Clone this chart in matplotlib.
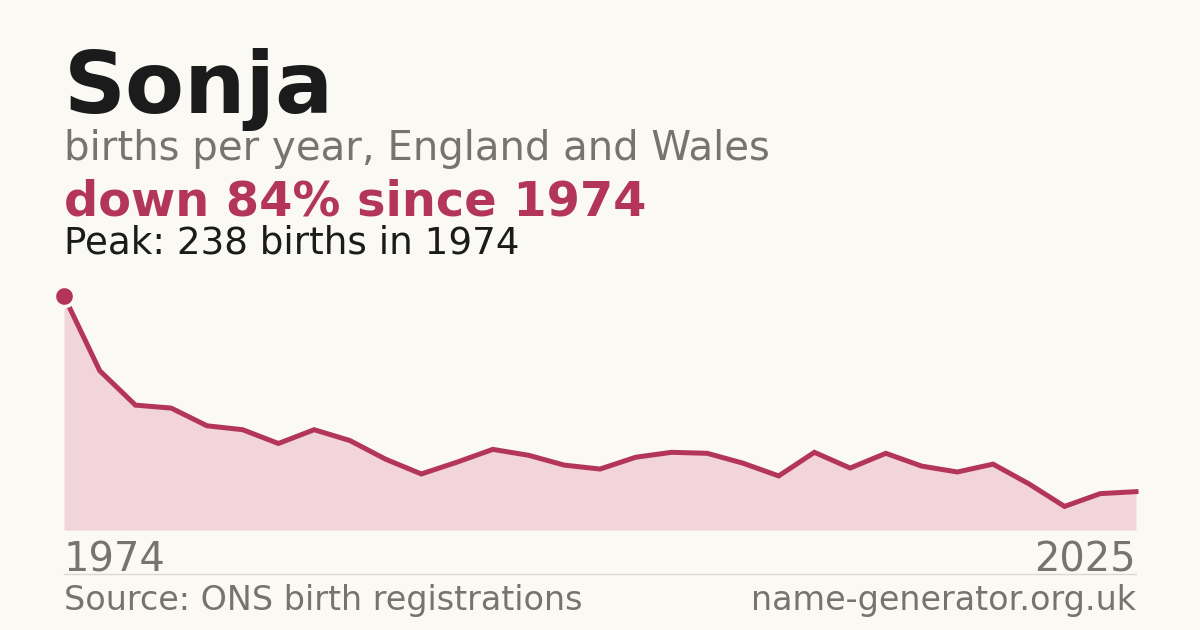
import matplotlib
matplotlib.use("Agg")
import matplotlib.pyplot as plt
import numpy as np

plt.rcParams["font.family"] = ["DejaVu Sans"]

# name data (births per year), evenly spaced from first to last year
name = "Sonja"
first_year = 1974
last_year = 2025
births = [238, 162, 127, 124, 106, 102, 88, 102, 91, 72,
          57, 69, 82, 76, 66, 62, 74, 79, 78, 68,
          55, 79, 63, 78, 65, 59, 67, 47, 24, 37, 39]

subtitle = "births per year, England and Wales"
change_text = "down 84% since 1974"
peak_text = "Peak: 238 births in 1974"
source_text = "Source: ONS birth registrations"
site_text = "name-generator.org.uk"

bg = "#faf9f4"
red = "#b3365a"
fill_col = "#f2d5da"
grey = "#78736c"
dark = "#1b1b1b"

W, H = 1200, 630
fig = plt.figure(figsize=(12, 6.3), dpi=100, facecolor=bg)

# chart area in pixels: x 64..1136, baseline y=530, peak y=296
ax = fig.add_axes([64 / W, (H - 530) / H, 1072 / W, 234 / H])
ax.set_facecolor(bg)
x = np.arange(len(births))
ax.fill_between(x, births, 0, color=fill_col, lw=0)
ax.plot(x, births, color=red, lw=3.6, solid_joinstyle="miter", clip_on=False)
ax.plot([0], [births[0]], "o", color=red, ms=14.5, mec=bg, mew=2.5, clip_on=False, zorder=5)
ax.set_xlim(0, len(births) - 1)
ax.set_ylim(0, max(births))
ax.axis("off")

# header texts
fig.text(64 / W, 1 - 113 / H, name, fontsize=62, fontweight="bold", color=dark, va="baseline")
fig.text(64 / W, 1 - 160 / H, subtitle, fontsize=29, color=grey, va="baseline")
fig.text(64 / W, 1 - 215 / H, change_text, fontsize=34.5, fontweight="bold", color=red, va="baseline")
fig.text(64 / W, 1 - 254 / H, peak_text, fontsize=26.8, color=dark, va="baseline")

# year labels
fig.text(64 / W, 1 - 571 / H, str(first_year), fontsize=28.8, color=grey, va="baseline")
fig.text(1136 / W, 1 - 571 / H, str(last_year), fontsize=28.8, color=grey, va="baseline", ha="right")

# separator and footer
fig.add_artist(plt.Line2D([64 / W, 1136 / W], [1 - 574 / H, 1 - 574 / H], color="#dcd8d0", lw=1))
fig.text(64 / W, 1 - 610 / H, source_text, fontsize=24, color=grey, va="baseline")
fig.text(1136 / W, 1 - 610 / H, site_text, fontsize=24, color=grey, va="baseline", ha="right")

fig.savefig("out.png", dpi=100, facecolor=bg)
